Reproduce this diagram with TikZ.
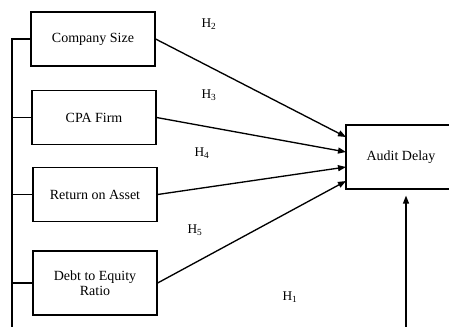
\documentclass[tikz,border=0pt]{standalone}
\usepackage{fontspec}
\setmainfont{Liberation Serif}
\usetikzlibrary{arrows.meta}

\tikzset{every picture/.style={line width=0.75pt},
  varbox/.style={draw, line width=0.9pt, minimum width=93pt, minimum height=40.5pt, align=center, inner sep=1pt, font=\fontsize{10.5}{11}\selectfont},
  hlabel/.style={inner sep=0.75pt, font=\fontsize{10}{11}\selectfont},
  link/.style={line width=1pt, -{Triangle[length=6pt,width=4.5pt]}},
  bus/.style={line width=0.9pt}}

\begin{document}
\begin{tikzpicture}[x=0.75pt,y=0.75pt,yscale=-1,xscale=1]
\useasboundingbox (0,0) rectangle (449,326);

%Shape: Rectangle [variables]
\node [varbox] (cs) at (93,39) {Company Size};
\node [varbox] (cpa) at (94,117.5) {CPA Firm};
\node [varbox] (roa) at (95,194.5) {Return on Asset};
\node [varbox, minimum height=48pt] (der) at (95,283) {Debt to Equity\\Ratio};
%Shape: Rectangle [dependent]
\node [varbox, minimum width=82.5pt, minimum height=48pt] (ad) at (401,157) {Audit Delay};

%Straight Lines [bus]
\coordinate (bustop) at (12,38);
\coordinate (busbot) at (12,332);
\draw [bus] (bustop) -- (busbot);
\draw [bus] (cs.west) -- (cs.west -| bustop);
\draw [bus] (cpa.west) -- (cpa.west -| bustop);
\draw [bus] (roa.west) -- (roa.west -| bustop);
\draw [bus] (der.west) -- (der.west -| bustop);

%Straight Lines [hypotheses]
\coordinate (in2) at (346,137);
\coordinate (in3) at (346,152);
\coordinate (in4) at (346,167);
\coordinate (in5) at (346,181);
\draw [link] (cs.east) -- (in2);
\draw [link] (cpa.east) -- (in3);
\draw [link] (roa.east) -- (in4);
\draw [link] (der.east) -- (in5);
\coordinate (h1src) at (406,332);
\draw [link, shorten >=6pt*0.75] (h1src) -- (h1src |- ad.south);

% Text Node
\node [hlabel] (h2) at (209,24) {H\textsubscript{2}};
% Text Node
\node [hlabel] (h3) at (209,95) {H\textsubscript{3}};
% Text Node
\node [hlabel] (h4) at (202,153) {H\textsubscript{4}};
% Text Node
\node [hlabel] (h5) at (195,230) {H\textsubscript{5}};
% Text Node
\node [hlabel] (h1) at (290,297) {H\textsubscript{1}};

\end{tikzpicture}
\end{document}
